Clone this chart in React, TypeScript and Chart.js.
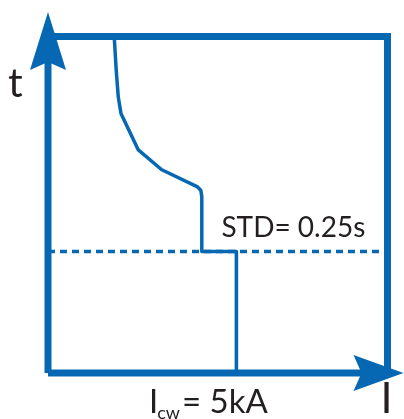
import React, { useEffect, useRef } from "react";
import { Chart, registerables } from "chart.js";

Chart.register(...registerables);

const BLUE = "#0668b3";
const INK = "#231f20";
const FONT = "Lato, 'Open Sans', sans-serif";

// axis ranges (arbitrary units)
const I_MAX = 100;
const T_MAX = 100;

// trip curve (current I, time t)
const curveI = [19.5, 20.1, 20.7, 21.5, 26.6, 33.5, 43.9, 45.0, 45.3, 45.3, 55.5, 55.5];
const curveT = [100, 89.9, 82.0, 77.1, 66.3, 60.4, 55.4, 54.3, 52.5, 36.1, 36.1, 0];

// short-time delay and withstand current
const stdT = 36.1;
const icwI = 55.5;

// frame
const boxI = [0, 0, I_MAX, I_MAX, 0];
const boxT = [0, T_MAX, T_MAX, 0, 0];

// labels
const yLabel = "t";
const xLabel = "I";
const stdLabel = "STD= 0.25s";
const icwMain = "I";
const icwSub = "cw";
const icwRest = "= 5kA";

const toPts = (xs: number[], ys: number[]) => xs.map((v, i) => ({ x: v, y: ys[i] }));

const decor = {
  id: "decor",
  afterDatasetsDraw(chart: any) {
    const { ctx, scales } = chart;
    const x = scales.x;
    const y = scales.y;
    const x0 = x.getPixelForValue(0);
    const y0 = y.getPixelForValue(0);
    const yTop = y.getPixelForValue(T_MAX);
    const xRight = x.getPixelForValue(I_MAX);
    ctx.save();
    ctx.fillStyle = BLUE;
    // y arrow
    const tipY = yTop - 24.5;
    ctx.beginPath();
    ctx.moveTo(x0, tipY);
    ctx.lineTo(x0 + 18, tipY + 58);
    ctx.lineTo(x0, tipY + 50);
    ctx.lineTo(x0 - 18, tipY + 58);
    ctx.closePath();
    ctx.fill();
    // x arrow
    const tipX = xRight + 16;
    ctx.beginPath();
    ctx.moveTo(tipX, y0);
    ctx.lineTo(tipX - 50, y0 - 18);
    ctx.lineTo(tipX - 42, y0);
    ctx.lineTo(tipX - 50, y0 + 18);
    ctx.closePath();
    ctx.fill();

    ctx.fillStyle = INK;
    ctx.textAlign = "left";
    ctx.textBaseline = "alphabetic";
    // t label
    ctx.font = `41px ${FONT}`;
    ctx.fillText(yLabel, x0 - 40, yTop + 60);
    // I label
    ctx.font = `43px ${FONT}`;
    ctx.fillText(xLabel, xRight - 7, y0 + 40);
    // STD label
    const xs = x.getPixelForValue(icwI);
    const ys = y.getPixelForValue(stdT);
    ctx.font = `28px ${FONT}`;
    ctx.fillText(stdLabel, xs - 15, ys - 15);
    // Icw label
    let cx = 149;
    const by = y0 + 40;
    ctx.font = `33px ${FONT}`;
    ctx.fillText(icwMain, cx, by);
    cx += ctx.measureText(icwMain).width - 1;
    ctx.font = `18px ${FONT}`;
    ctx.fillText(icwSub, cx, by + 6);
    cx += ctx.measureText(icwSub).width + 2;
    ctx.font = `33px ${FONT}`;
    ctx.fillText(icwRest, cx, by);
    ctx.restore();
  },
};

export default function App() {
  const ref = useRef<HTMLCanvasElement | null>(null);
  useEffect(() => {
    document.body.style.margin = "0";
    const canvas = ref.current;
    if (!canvas) return;
    const chart = new Chart(canvas, {
      type: "scatter",
      data: {
        datasets: [
          {
            data: toPts(curveI, curveT),
            showLine: true,
            borderColor: BLUE,
            borderWidth: 3.5,
            pointRadius: 0,
            borderJoinStyle: "round",
            clip: false,
          } as any,
          {
            data: toPts([icwI, icwI], [stdT, 0]),
            showLine: true,
            borderColor: BLUE,
            borderWidth: 3,
            pointRadius: 0,
            clip: false,
          } as any,
          {
            data: toPts([0, I_MAX], [stdT, stdT]),
            showLine: true,
            borderColor: BLUE,
            borderWidth: 3.5,
            borderDash: [7, 5],
            pointRadius: 0,
            clip: false,
          } as any,
          {
            data: toPts(boxI, boxT),
            showLine: true,
            borderColor: BLUE,
            borderWidth: 7,
            borderJoinStyle: "miter",
            pointRadius: 0,
            clip: false,
          } as any,
        ],
      },
      options: {
        animation: false,
        responsive: false,
        events: [],
        layout: { autoPadding: false, padding: { left: 48, right: 16.5, top: 36.5, bottom: 46 } },
        plugins: { legend: { display: false }, tooltip: { enabled: false } },
        scales: {
          x: { type: "linear", min: 0, max: I_MAX, display: false },
          y: { type: "linear", min: 0, max: T_MAX, display: false },
        },
      } as any,
      plugins: [decor],
    });
    return () => chart.destroy();
  }, []);
  return (
    <div style={{ position: "absolute", left: 0, top: 0, width: 404, height: 419 }}>
      <canvas ref={ref} width={404} height={419} style={{ display: "block" }} />
    </div>
  );
}
